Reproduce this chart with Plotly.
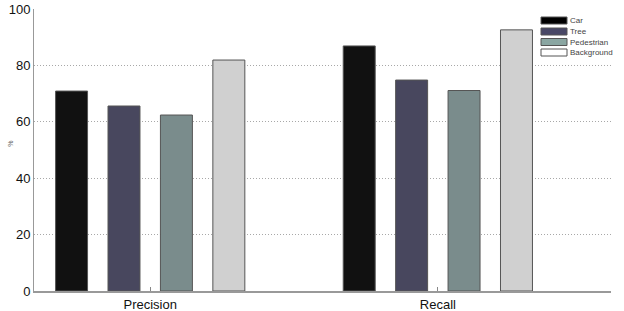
import plotly.graph_objects as go

metrics = ["Precision", "Recall"]
metric_pos = [1, 2]
classes = ["Car", "Tree", "Pedestrian", "Background"]
car = [70.9, 86.9]
tree = [65.6, 74.8]
pedestrian = [62.4, 71.1]
background = [81.9, 92.6]
colors = ["#111111", "#48475e", "#7a8c8c", "#d0d0d0"]
legend_colors = ["#000000", "#484766", "#8aa6a2", "#ffffff"]
y_ticks = [0, 20, 40, 60, 80, 100]

W, H = 624, 311
L, R, T, B = 34, 13, 9, 20
pw, ph = W - L - R, H - T - B

fig = go.Figure()
for name, vals, col in zip(classes, [car, tree, pedestrian, background], colors):
    fig.add_trace(go.Bar(
        x=metric_pos, y=vals, name=name, showlegend=False,
        marker=dict(color=col, line=dict(color="#555555", width=1)),
    ))

# compact legend box (drawn like the original's)
row_y = [20.5, 31.5, 42, 52.5]
for name, col, ry in zip(classes, legend_colors, row_y):
    fig.add_shape(type="rect", xref="paper", yref="paper",
                  x0=(541 - L) / pw, x1=(567 - L) / pw,
                  y0=1 - (ry + 3.5 - T) / ph, y1=1 - (ry - 3.5 - T) / ph,
                  fillcolor=col, line=dict(color="#555555", width=1))
    fig.add_annotation(xref="paper", yref="paper",
                       x=(568 - L) / pw, y=1 - (ry - T) / ph,
                       xanchor="left", yanchor="middle", showarrow=False,
                       text=name, font=dict(size=8, color="#444444"))

fig.add_annotation(xref="paper", yref="paper", x=(5 - L) / pw, y=0.52,
                   text="%", textangle=-90, showarrow=False,
                   font=dict(size=7, color="#666666"))

fig.update_layout(
    width=W, height=H,
    margin=dict(l=L, r=R, t=T, b=B, autoexpand=False),
    paper_bgcolor="white", plot_bgcolor="white",
    barmode="group", bargap=0.271, bargroupgap=0.39,
    font=dict(family="Liberation Sans, Arial, sans-serif", color="#111111"),
    showlegend=False,
    xaxis=dict(range=[0.596, 2.602], tickvals=metric_pos, ticktext=metrics,
               ticks="inside", ticklen=4, tickcolor="#888888",
               showline=True, linecolor="#999999", linewidth=2,
               showgrid=False, zeroline=False, automargin=False,
               tickfont=dict(size=13), fixedrange=True),
    yaxis=dict(range=[0, 100], tickvals=y_ticks,
               showline=True, linecolor="#999999", linewidth=1,
               showgrid=True, gridcolor="#a8a8a8", griddash="1px,2px", gridwidth=1,
               zeroline=False, tickfont=dict(size=13), automargin=False),
)

fig.write_html("out.html")
